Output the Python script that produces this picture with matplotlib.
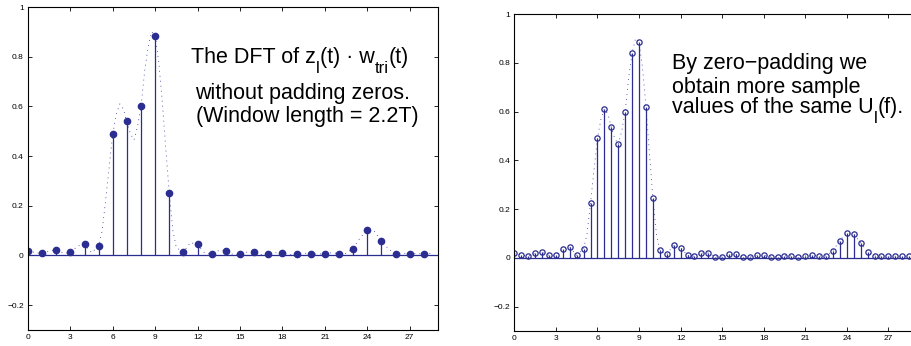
import numpy as np
import matplotlib
matplotlib.use('Agg')
import matplotlib.pyplot as plt
from matplotlib.transforms import offset_copy

plt.rcParams['font.family'] = ['Liberation Sans', 'DejaVu Sans']

# left panel: DFT samples without zero padding (integer bins)
bins_left = list(range(29))
dft_left = [0.020, 0.008, 0.022, 0.012, 0.045, 0.040, 0.490, 0.540, 0.600, 0.885,
            0.250, 0.015, 0.045, 0.005, 0.019, 0.005, 0.012, 0.004, 0.009, 0.004,
            0.007, 0.007, 0.007, 0.028, 0.102, 0.060, 0.006, 0.007, 0.006]

# right panel: zero-padded DFT (half-bin spacing)
bins_right = [i / 2 for i in range(58)]
dft_right = [0.018, 0.012, 0.007, 0.018, 0.023, 0.010, 0.011, 0.038, 0.044, 0.011,
             0.038, 0.225, 0.490, 0.610, 0.535, 0.465, 0.600, 0.840, 0.885, 0.620,
             0.246, 0.031, 0.014, 0.053, 0.042, 0.010, 0.007, 0.020, 0.020, 0.004,
             0.004, 0.014, 0.014, 0.004, 0.004, 0.011, 0.011, 0.004, 0.005, 0.009,
             0.008, 0.005, 0.008, 0.011, 0.008, 0.008, 0.030, 0.071, 0.103, 0.097,
             0.061, 0.026, 0.008, 0.008, 0.008, 0.007, 0.007, 0.008]

# extra points of the continuous spectrum U_l(f) read around the main lobe
lobe_f = [5.25, 5.75, 6.25, 6.75, 7.25, 7.75, 8.25, 8.75, 9.25, 9.75, 10.25]
lobe_u = [0.10, 0.36, 0.57, 0.59, 0.49, 0.52, 0.74, 0.90, 0.78, 0.43, 0.10]

x_ticks = [0, 3, 6, 9, 12, 15, 18, 21, 24, 27]
y_ticks = [-0.2, 0, 0.2, 0.4, 0.6, 0.8, 1]
y_labels = ['\u22120.2', '0', '0.2', '0.4', '0.6', '0.8', '1']

blue = '#2b2d91'
fs = 15.5

curve = sorted(zip(bins_right + lobe_f, dft_right + lobe_u))
curve_f = [c[0] for c in curve]
curve_u = [c[1] for c in curve]

fig = plt.figure(figsize=(9.11, 3.46), dpi=100)
ax1 = fig.add_axes([0.0307, 0.0462, 0.450, 0.9335])
ax2 = fig.add_axes([0.5646, 0.0434, 0.441, 0.916])
renderer = fig.canvas.get_renderer()


def draw_panel(ax, f, u, filled, msize):
    ax.plot(curve_f, curve_u, color=blue, lw=0.6, linestyle=(0, (1, 5)))
    ax.axhline(0, color=blue, lw=0.9)
    ax.vlines(f, 0, u, color=blue, lw=0.9)
    if filled:
        ax.plot(f, u, 'o', color=blue, ms=msize, mec=blue)
    else:
        ax.plot(f, u, 'o', mfc='none', mec=blue, ms=msize, mew=0.9)
    ax.set_xlim(0, 29)
    ax.set_ylim(-0.3, 1)
    ax.set_xticks(x_ticks)
    ax.set_yticks(y_ticks)
    ax.set_yticklabels(y_labels)
    ax.tick_params(direction='in', length=3, width=0.6, labelsize=6,
                   top=True, right=True, pad=3, colors='black')
    for s in ax.spines.values():
        s.set_linewidth(0.8)


def rich_text(ax, x, y, parts):
    # parts: (string, is_subscript); subscripts drawn smaller and lowered
    dx = 0
    for s, sub in parts:
        size = fs * 0.78 if sub else fs
        dy = -10 if sub else 0
        tr = offset_copy(ax.transData, fig=fig, x=dx, y=dy, units='dots')
        t = ax.text(x, y, s, fontsize=size, va='baseline', transform=tr)
        dx += t.get_window_extent(renderer).width


draw_panel(ax1, bins_left, dft_left, True, 4.5)
draw_panel(ax2, bins_right, dft_right, False, 3.8)

rich_text(ax1, 11.54, 0.776, [('The DFT of z', False), ('l', True),
                              ('(t) \u00b7 w', False), ('tri', True), ('(t)', False)])
ax1.text(11.82, 0.628, 'without padding zeros.', fontsize=fs, va='baseline')
ax1.text(11.89, 0.536, '(Window length = 2.2T)', fontsize=fs, va='baseline')

ax2.text(11.39, 0.773, 'By zero\u2212padding we', fontsize=fs, va='baseline')
ax2.text(11.39, 0.677, 'obtain more sample', fontsize=fs, va='baseline')
rich_text(ax2, 11.39, 0.595, [('values of the same U', False), ('l', True), ('(f).', False)])

plt.savefig('out.png', dpi=100)
